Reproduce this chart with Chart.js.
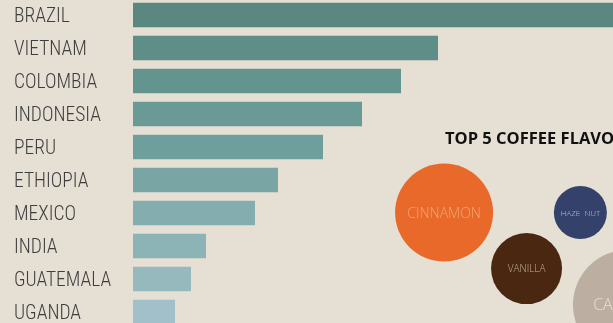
<!DOCTYPE html>
<html>
<head>
<meta charset="utf-8">
<script src="https://cdn.jsdelivr.net/npm/chart.js@4"></script>
<style>
    html, body { margin: 0; padding: 0; width: 613px; height: 323px; overflow: hidden; background: #E6DFD4; }
    #wrap_bars { position: absolute; left: 0; top: -2px; width: 613px; height: 332px; }
    #wrap_flavors { position: absolute; left: 380px; top: 120px; width: 233px; height: 203px; }
    #flavor_title { position: absolute; left: 445px; top: 126px; font-family: 'Open Sans', sans-serif; font-weight: 700; font-size: 16.5px; color: #111111; white-space: nowrap; }
</style>
</head>
<body>
<div id="wrap_bars"><canvas id="graph_producers"></canvas></div>
<div id="flavor_title">TOP 5 COFFEE FLAVORS</div>
<div id="wrap_flavors"><canvas id="graph_flavors"></canvas></div>

<script>
var LABELS_COUNTRIES                                        = ['BRAZIL', 'VIETNAM', 'COLOMBIA', 'INDONESIA', 'PERU', 'ETHIOPIA', 'MEXICO', 'INDIA', 'GUATEMALA', 'UGANDA'];
var VALUES_PRODUCTION                                       = [60, 30.5, 26.8, 22.9, 19.0, 14.5, 12.2, 7.3, 5.8, 4.2];
var COLORS_PRODUCTION                                       = ['#5A8880', '#5E8E87', '#63948E', '#699A96', '#6F9F9D', '#79A6A5', '#83ADAE', '#8CB3B6', '#96B9BD', '#A1C0C9'];

var LABELS_FLAVORS                                          = ['CINNAMON', 'HAZE  NUT', 'VANILLA', 'CARAMEL'];
var FLAVORS_X                                               = [2.75, 8.6, 6.29, 10.64];
var FLAVORS_Y                                               = [5.44, 5.44, 2.68, 0.89];
var FLAVORS_SIZE                                            = [49, 26.5, 35.5, 55];
var COLORS_FLAVORS                                          = ['#E8692A', '#33416B', '#4A2710', '#BCAFA1'];
var COLORS_FLAVOR_TEXT                                      = ['#F6A676', '#C4C9DA', '#C9B29C', '#E7DFD6'];
var FONTS_FLAVOR_TEXT                                       = [14, 8, 10, 16];

var graph_producers_chart                                   = null;
var graph_flavors_chart                                     = null;



function graph_draw() {

    graph_producers_chart                                   = new Chart(document.getElementById('graph_producers'), {
        type: 'bar',
        data: {
            labels: LABELS_COUNTRIES,
            datasets: [
                {
                    data: VALUES_PRODUCTION,
                    backgroundColor: COLORS_PRODUCTION,
                    borderWidth: 0,
                    barPercentage: 0.74,
                    categoryPercentage: 1,
                }
            ]
        },
        options: {
            indexAxis: 'y',
            animation: false,
            responsive: true,
            maintainAspectRatio: false,
            layout: {
                autoPadding: false,
                padding: { left: 14, right: 0, top: 0.5, bottom: 1.5 }
            },
            scales: {
                x: {
                    display: false,
                    min: 0,
                    max: 48,
                },
                y: {
                    grid: { display: false },
                    border: { display: false },
                    afterFit: function(scale) {
                        scale.width                         = 119;
                        scale.paddingTop                    = 0;
                        scale.paddingBottom                 = 0;
                    },
                    ticks: {
                        crossAlign: 'far',
                        padding: 0,
                        labelOffset: 2.5,
                        color: '#3E3E3E',
                        font: { family: "'Roboto Condensed', sans-serif", weight: 300, size: 19.5 }
                    }
                }
            },
            plugins: {
                legend: { display: false },
                tooltip: { enabled: false }
            }
        }
    });

    graph_flavors_chart                                     = new Chart(document.getElementById('graph_flavors'), {
        type: 'bubble',
        data: {
            labels: LABELS_FLAVORS,
            datasets: [
                {
                    data: LABELS_FLAVORS.map(function(label, i) { return { x: FLAVORS_X[i], y: FLAVORS_Y[i], r: FLAVORS_SIZE[i] }; }),
                    backgroundColor: COLORS_FLAVORS,
                    borderWidth: 0,
                    clip: false,
                }
            ]
        },
        options: {
            animation: false,
            responsive: true,
            maintainAspectRatio: false,
            layout: { autoPadding: false, padding: 0 },
            scales: {
                x: { display: false, min: 0, max: 10 },
                y: { display: false, min: 0, max: 10 }
            },
            plugins: {
                legend: { display: false },
                tooltip: { enabled: false }
            }
        },
        plugins: [
            {
                id: 'flavor_labels',
                afterDatasetsDraw: function(chart) {

                    var ctx                                 = chart.ctx;
                    var meta                                = chart.getDatasetMeta(0);

                    ctx.save();
                    ctx.textAlign                           = 'center';
                    ctx.textBaseline                        = 'middle';

                    meta.data.forEach(function(point, i) {
                        ctx.fillStyle                       = COLORS_FLAVOR_TEXT[i];
                        ctx.font                            = '300 ' + FONTS_FLAVOR_TEXT[i] + "px 'Open Sans', sans-serif";
                        ctx.fillText(LABELS_FLAVORS[i], point.x, point.y + 1);
                    });

                    ctx.restore();
                }
            }
        ]
    });
}

graph_draw();
</script>
</body>
</html>
